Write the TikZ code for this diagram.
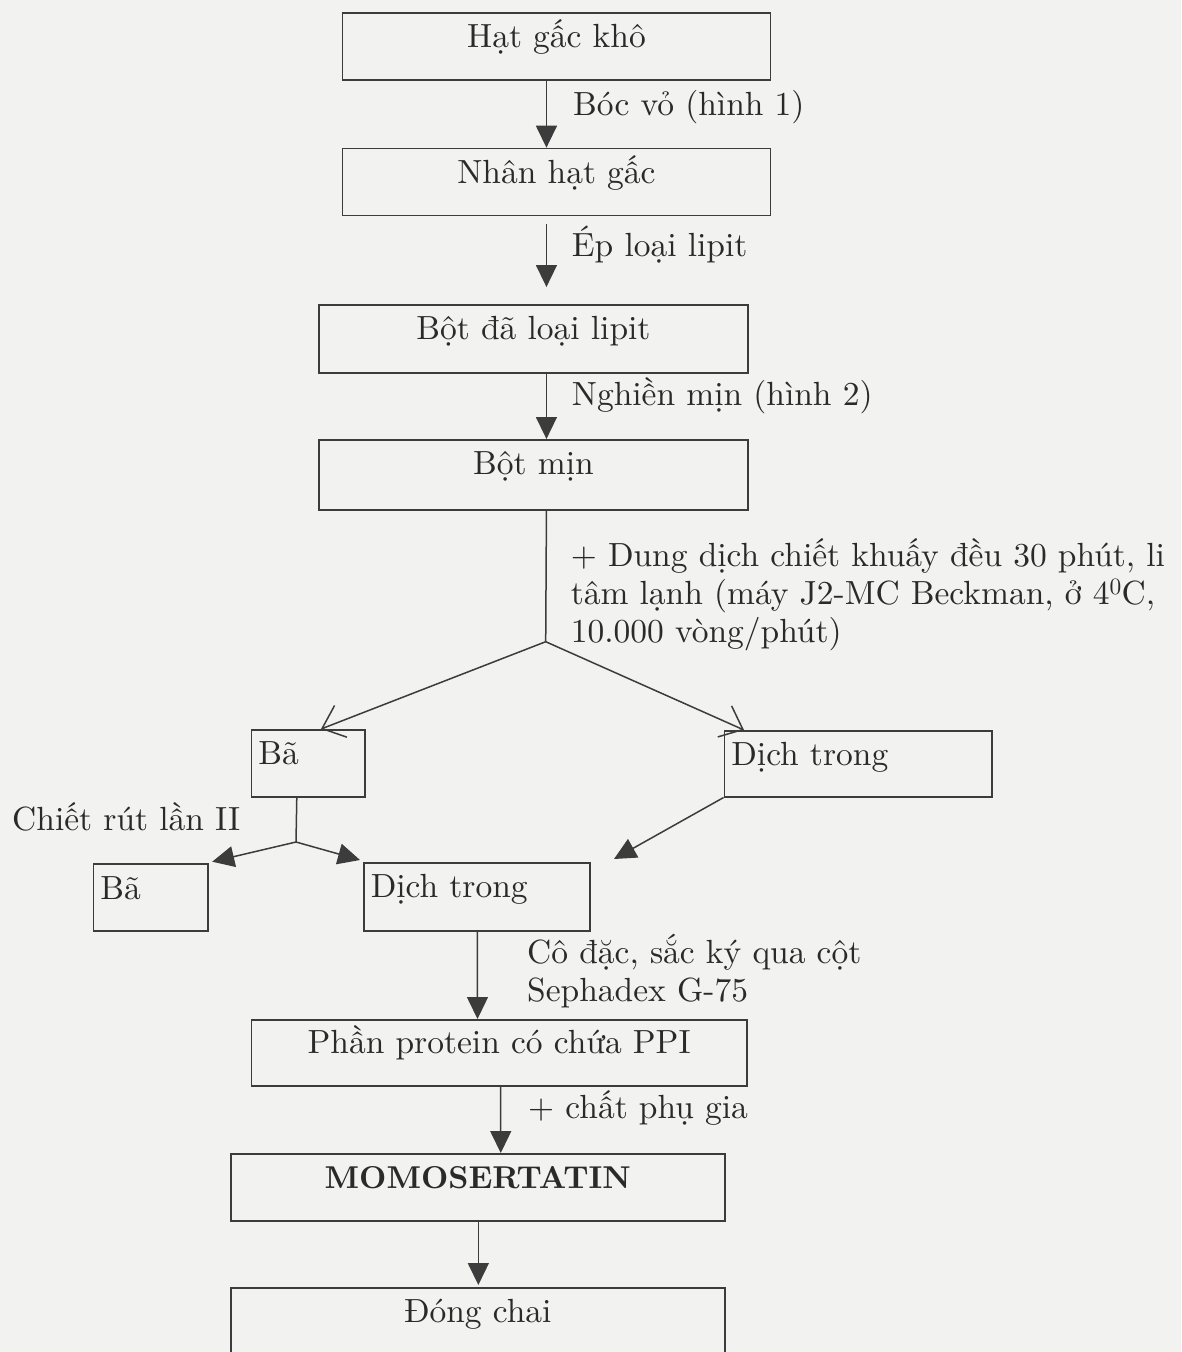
\documentclass[tikz,border=0pt]{standalone}
\usepackage{fontspec}
\setmainfont{lmroman10-regular.otf}[BoldFont=lmroman10-bold.otf]
\usetikzlibrary{arrows.meta}
\definecolor{bg}{HTML}{F2F2F0}
\definecolor{ink}{HTML}{3C3C3C}
\definecolor{txt}{HTML}{2A2A2A}
\begin{document}
\begin{tikzpicture}[x=1pt,y=-1pt,
  every node/.style={text=txt, font=\fontsize{33.5}{38}\selectfont},
  box/.style={draw=ink, line width=1.5pt, inner xsep=0pt, inner ysep=0pt,
    text height=35pt, text depth=32pt, anchor=north west},
  lbox/.style={box, inner xsep=7pt, align=left},
  lbl/.style={inner sep=0pt, anchor=base west},
  conn/.style={draw=ink, line width=1.5pt},
  arr/.style={conn, -{Triangle[length=22pt,width=21pt]}},
  barb/.style={conn, -{Straight Barb[length=20pt,width=34pt]}}]
\fill[bg] (0,0) rectangle (1181,1352);
\useasboundingbox (0,0) rectangle (1181,1352);

% main column boxes
\node[box, minimum width=428pt] (b1) at (341.7,12) {Hạt gấc khô};
\node[box, minimum width=428pt] (b2) at (341.7,147.7) {Nhân hạt gấc};
\node[box, minimum width=428.6pt, text depth=33pt] (b3) at (318.4,304) {Bột đã loại lipit};
\node[box, minimum width=428.6pt, text depth=35pt] (b4) at (318.4,439) {Bột mịn};

% branch boxes
\node[lbox, text width=99.3pt] (ba1) at (250.7,729) {Bã};
\node[lbox, text width=253.4pt, text depth=31pt] (dr) at (723.6,730) {Dịch trong};
\node[lbox, text width=100.6pt] (ba2) at (92.7,863.3) {Bã};
\node[lbox, text width=212pt, text depth=33pt] (dl) at (363,862) {Dịch trong};

% lower column
\node[box, minimum width=495.3pt, text height=34pt, text depth=32pt] (pp) at (250.7,1019) {Phần protein có chứa PPI};
\node[box, minimum width=494pt] (mo) at (230,1153) {\fontsize{31.6}{38}\selectfont\bfseries MOMOSERTATIN};
\node[box, minimum width=494pt, text depth=50pt] (dc) at (230,1287) {Đóng chai};

% helper points
\coordinate (split) at (545.7,641.7);
\coordinate (junc) at (296,842);
\coordinate (free) at (614,859);

% connectors
\draw[arr] ([xshift=-10pt]b1.south) -- ([xshift=-10pt]b2.north);
\draw[arr, shorten <=7.7pt, shorten >=17pt] ([xshift=-10pt]b2.south) -- ([xshift=13pt]b3.north);
\draw[arr] ([xshift=13pt]b3.south) -- ([xshift=13pt]b4.north);
\draw[conn] ([xshift=13pt]b4.south) -- (split);
\draw[barb] (split) -- ([xshift=70.3pt]ba1.north west);
\draw[barb] (split) -- ([xshift=20.4pt]dr.north west);
\draw[conn] ([xshift=-11.3pt]ba1.south) -- (junc);
\draw[arr] (junc) -- ([shift={(3.4pt,1.6pt)}]ba2.north east);
\draw[arr] (junc) -- ([shift={(-3pt,2pt)}]dl.north west);
\draw[arr] (dr.south west) -- (free);
\draw[arr] ([xshift=0.7pt]dl.south) -- ([xshift=-21.6pt]pp.north);
\draw[arr] ([xshift=1.6pt]pp.south) -- ([xshift=23pt]mo.north);
\draw[arr, shorten >=2pt] ([xshift=0.6pt]mo.south) -- ([xshift=0.6pt]dc.north);

% labels
\node[lbl] (l1) at (573,115) {Bóc vỏ (hình 1)};
\node[lbl] (l2) at (571.7,256) {Ép loại lipit};
\node[lbl] (l3) at (571.7,405) {Nghiền mịn (hình 2)};
\node[lbl] (l4) at (570.6,566) {\begin{tabular}[t]{@{}l@{}}+ Dung dịch chiết khuấy đều 30 phút, li\\tâm lạnh (máy J2-MC Beckman, ở 4\textsuperscript{0}C,\\10.000 vòng/phút)\end{tabular}};
\node[lbl] (l5) at (12,830) {Chiết rút lần II};
\node[lbl] (l6) at (527,963) {\begin{tabular}[t]{@{}l@{}}Cô đặc, sắc ký qua cột\\Sephadex G-75\end{tabular}};
\node[lbl] (l7) at (528,1118) {+ chất phụ gia};
\end{tikzpicture}
\end{document}
